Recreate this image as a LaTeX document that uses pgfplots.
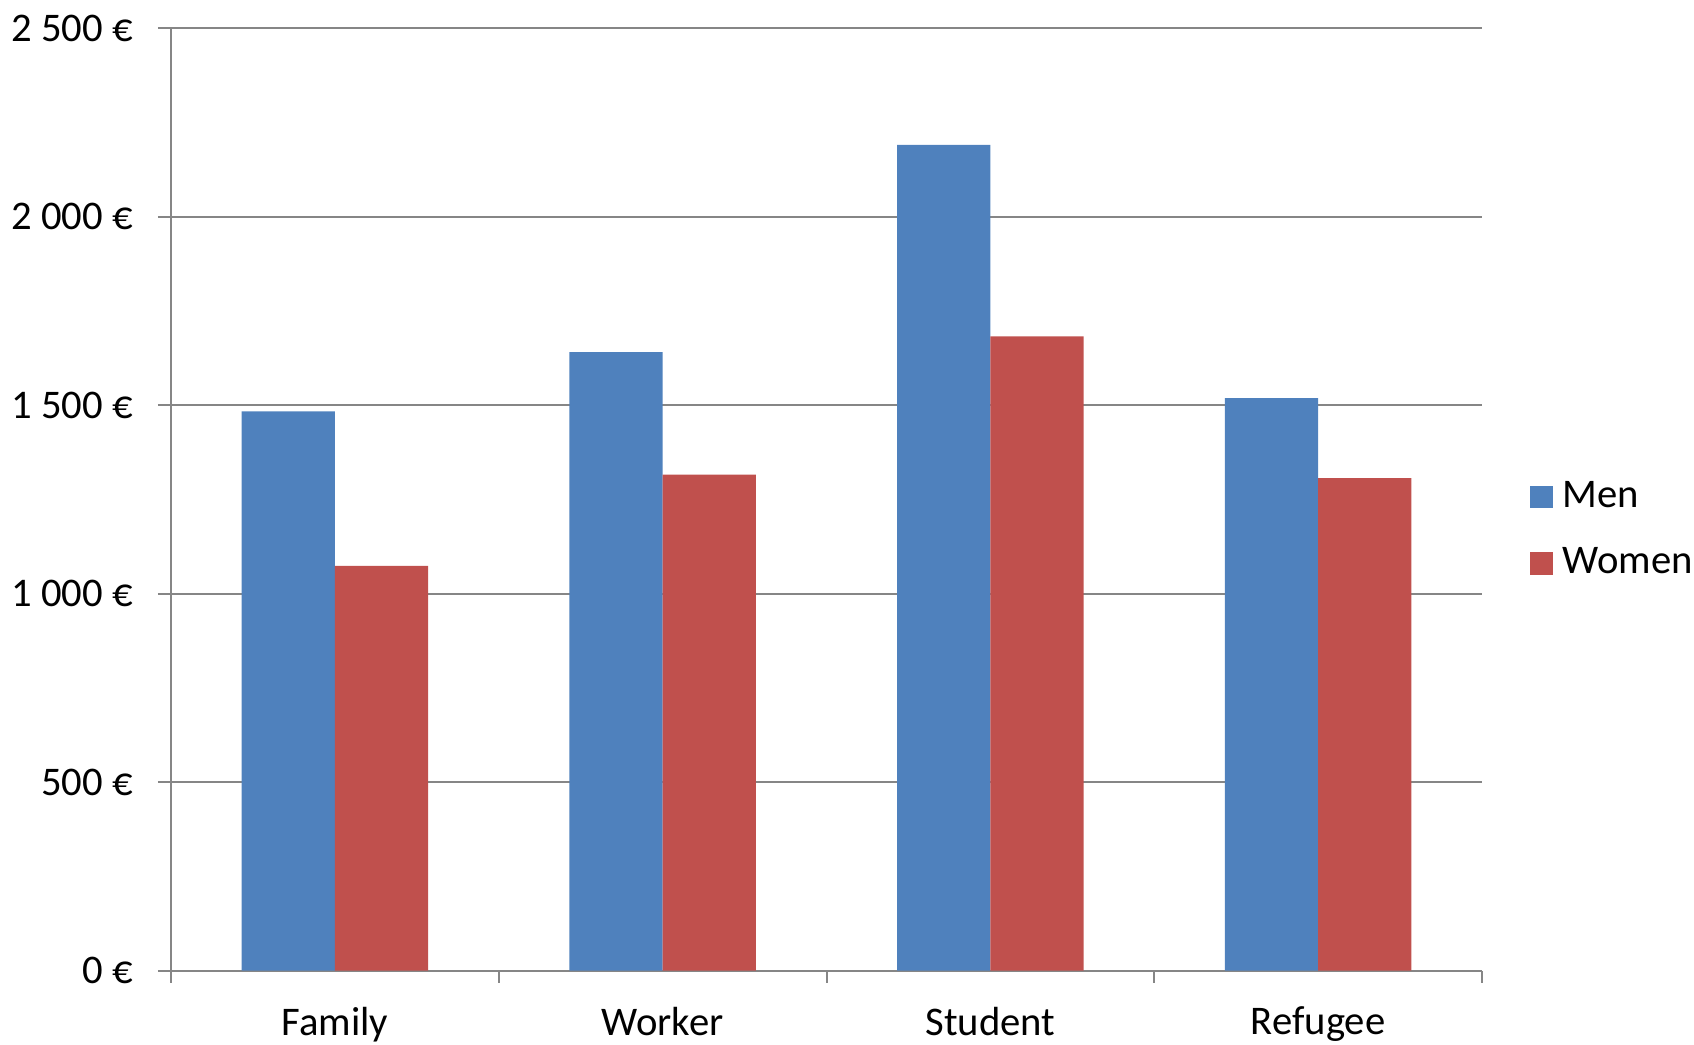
\documentclass[border=0pt]{standalone}
\usepackage{pgfplots}
\pgfplotsset{compat=1.18}
\usepackage{fontspec}
\setmainfont{Carlito}
\definecolor{menblue}{RGB}{79,129,189}
\definecolor{womenred}{RGB}{192,80,77}
\definecolor{gridgray}{RGB}{134,134,134}
\begin{document}
\begin{tikzpicture}
\begin{axis}[
  at={(0,0)}, anchor=south west,
  scale only axis,
  width=393.3pt, height=282.7pt,
  ybar=0pt, bar width=28pt,
  xmin=-0.5, xmax=3.5,
  ymin=0, ymax=2500,
  xtick={0,1,2,3},
  xticklabels={Family,Worker,Student,Refugee},
  minor xtick={-0.5,0.5,1.5,2.5,3.5},
  ytick={0,500,1000,1500,2000,2500},
  yticklabels={0 €,500 €,1 000 €,1 500 €,2 000 €,2 500 €},
  axis x line*=bottom, axis y line*=left,
  axis line style={gridgray, line width=0.6pt, -},
  tick align=outside,
  major x tick style={draw=none},
  minor tick length=3.6pt,
  major tick length=3.9pt,
  every tick/.style={gridgray, line width=0.6pt},
  ymajorgrids,
  grid style={gridgray, line width=0.6pt},
  font=\fontsize{12}{14}\selectfont,
  ticklabel style={font=\fontsize{12.2}{14}\selectfont},
  yticklabel style={anchor=east, inner sep=0pt, xshift=-7.4pt},
  xticklabel style={anchor=north, inner sep=0pt, yshift=-6.8pt},
  legend style={at={(1,0.4675)}, anchor=west, xshift=14.1pt, draw=none, fill=none,
    inner sep=0pt, row sep=6.6pt, font=\fontsize{12.2}{14}\selectfont,
    nodes={inner xsep=3pt}},
  legend cell align=left,
  legend image code/.code={\draw[#1, draw=none] (0pt,-3.4pt) rectangle (6.9pt,3.4pt);},
]
\addplot[fill=menblue, draw=none] coordinates {(0,1484) (1,1641) (2,2191) (3,1519)};
\addplot[fill=womenred, draw=none] coordinates {(0,1074) (1,1316) (2,1683) (3,1307)};
\legend{Men,Women}
\end{axis}
\pgfresetboundingbox
\path[use as bounding box] (-51.3pt,-22pt) rectangle (456.9pt,291.2pt);
\end{tikzpicture}
\end{document}
